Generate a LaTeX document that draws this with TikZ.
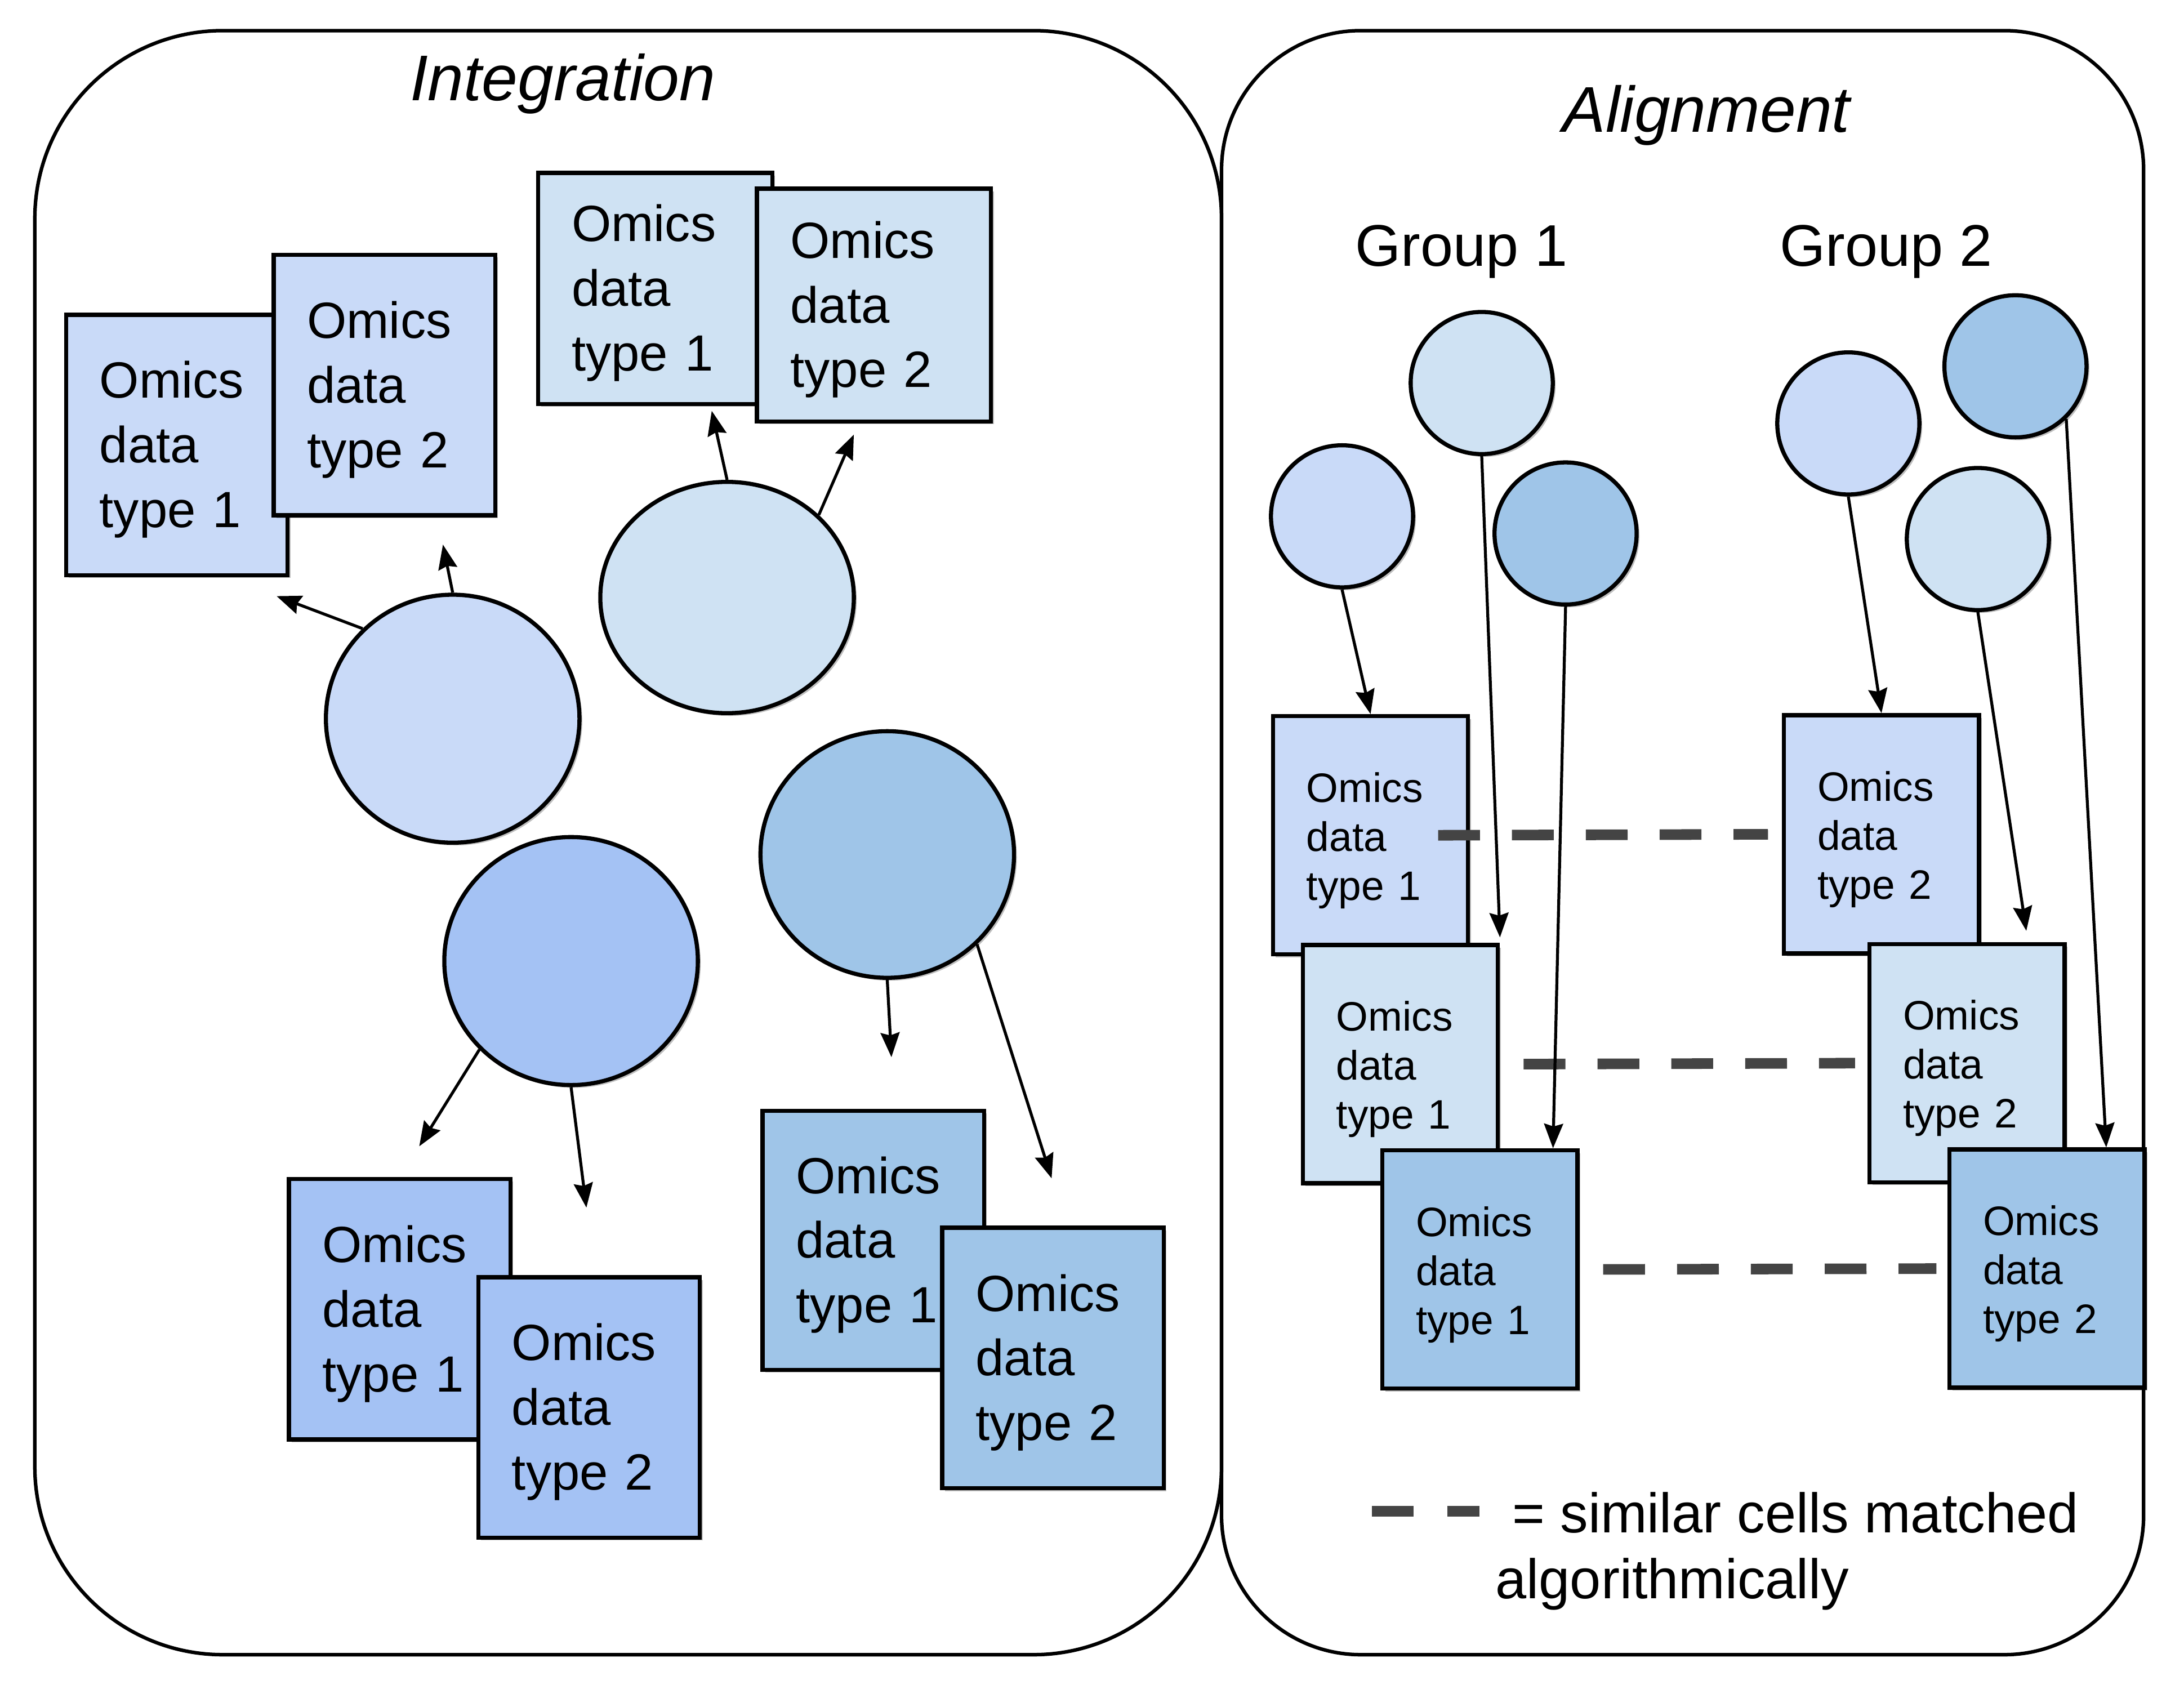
\documentclass[tikz,border=0pt]{standalone}
\usepackage{fontspec}
\setmainfont{Liberation Sans}
\usetikzlibrary{shapes.geometric,arrows.meta,shadows}
\definecolor{cA}{HTML}{C9DAF8}
\definecolor{cB}{HTML}{CFE2F3}
\definecolor{cC}{HTML}{A4C2F4}
\definecolor{cD}{HTML}{9FC5E8}
\definecolor{dashgray}{HTML}{444444}
\newcommand\bigfirst{\rule{0pt}{23.5pt}}
\newcommand\smallfirst{\rule{0pt}{20.5pt}}
\begin{document}
\begin{tikzpicture}[x=0.025cm,y=-0.025cm,
  panel/.style={draw=black,line width=1.8pt},
  shad/.style={drop shadow={shadow xshift=0.05cm,shadow yshift=-0.05cm,opacity=0.25,fill=black}},
  cell/.style={ellipse,draw=black,line width=2.1pt,inner sep=0pt,shad},
  bigcell/.style={cell,minimum width=4.55cm},
  smallcell/.style={cell,minimum width=2.55cm,minimum height=2.55cm},
  bigbox/.style={rectangle,draw=black,line width=2.1pt,anchor=north west,align=left,
     inner xsep=0.6cm,inner ysep=0pt,text width=2.775cm,minimum height=4.675cm,
     font=\fontsize{26}{33}\selectfont,shad},
  widebox/.style={bigbox,text width=3.0cm,minimum height=4.15cm},
  smallbox/.style={rectangle,draw=black,line width=2.1pt,anchor=north west,align=left,
     inner xsep=0.6cm,inner ysep=0pt,text width=2.3cm,minimum height=4.275cm,
     font=\fontsize{21}{25}\selectfont,shad},
  arr/.style={-{Stealth[length=0.44cm,width=0.34cm,inset=0.05cm]},line width=1.5pt},
  match/.style={draw=dashgray,line width=0.19cm,dash pattern=on 0.75cm off 0.575cm},
  ttl/.style={font=\itshape\fontsize{33}{40}\selectfont,inner sep=0pt},
  grp/.style={font=\fontsize{30}{36}\selectfont,inner sep=0pt}
]
\useasboundingbox (0,0) rectangle (1568,1209.4);
\fill[white] (0,0) rectangle (1568,1209.4);

% panels
\draw[panel,rounded corners=3.375cm] (25,22) rectangle (877,1188);
\draw[panel,rounded corners=2.5cm] (877,22) rectangle (1539,1188);

% titles
\node[ttl] (tInt) at (404,60) {Integration};
\node[ttl] (tAli) at (1225,83) {Alignment};
\node[grp] (g1) at (1049.3,180.5) {Group 1};
\node[grp] (g2) at (1354,180.5) {Group 2};

% ---------------- Integration panel ----------------
\node[bigbox,fill=cA] (A1) at (46,224.5) {\bigfirst Omics\\data\\type 1};
\node[bigbox,fill=cA] (A2) at (195,181.5) {\bigfirst Omics\\data\\type 2};
\node[widebox,fill=cB] (B1) at (385,122.6) {\bigfirst Omics\\data\\type 1};
\node[widebox,fill=cB,minimum height=4.175cm] (B2) at (542,134) {\bigfirst Omics\\data\\type 2};
\node[bigbox,fill=cC] (C1) at (206,845) {\bigfirst Omics\\data\\type 1};
\node[bigbox,fill=cC] (C2) at (342,915.5) {\bigfirst Omics\\data\\type 2};
\node[bigbox,fill=cD,minimum height=4.65cm] (D1) at (546,796) {\bigfirst Omics\\data\\type 1};
\node[bigbox,fill=cD] (D2) at (675,880) {\bigfirst Omics\\data\\type 2};

\node[bigcell,fill=cA,minimum height=4.45cm] (cirA) at (325,516) {};
\node[bigcell,fill=cB,minimum height=4.15cm] (cirB) at (522,429) {};
\node[bigcell,fill=cC,minimum height=4.45cm] (cirC) at (410,690) {};
\node[bigcell,fill=cD,minimum height=4.425cm] (cirD) at (637,613.5) {};

\coordinate (tA1) at (198.6,428);
\coordinate (tA2) at (318,391);
\coordinate (tB1) at (511,295);
\coordinate (tB2) at (613,312);
\coordinate (tC1) at (301,823);
\coordinate (tC2) at (421,867);
\coordinate (tD1) at (640,759);
\coordinate (tD2) at (755,846);

\draw[arr] (cirA.135) -- (tA1);
\draw[arr] (cirA.90) -- (tA2);
\draw[arr] (cirB.90) -- (tB1);
\draw[arr] (cirB.42) -- (tB2);
\draw[arr] (cirC.224) -- (tC1);
\draw[arr] (cirC.270) -- (tC2);
\draw[arr] (cirD.270) -- (tD1);
\draw[arr] (cirD.315) -- (tD2);

% ---------------- Alignment panel ----------------
\node[smallbox,fill=cA] (R1) at (912.5,512.7) {\smallfirst Omics\\data\\type 1};
\node[smallbox,fill=cB] (R2) at (933.9,677) {\smallfirst Omics\\data\\type 1};
\node[smallbox,fill=cD] (R3) at (991,824.4) {\smallfirst Omics\\data\\type 1};
\node[smallbox,fill=cA] (S1) at (1279.3,512) {\smallfirst Omics\\data\\type 2};
\node[smallbox,fill=cB] (S2) at (1340.8,676.3) {\smallfirst Omics\\data\\type 2};
\node[smallbox,fill=cD] (S3) at (1398.2,823.8) {\smallfirst Omics\\data\\type 2};

\node[smallcell,fill=cA] (G1a) at (963.5,370.7) {};
\node[smallcell,fill=cB] (G1b) at (1063.8,275) {};
\node[smallcell,fill=cD] (G1c) at (1124,383) {};
\node[smallcell,fill=cA] (G2a) at (1327,304) {};
\node[smallcell,fill=cB] (G2b) at (1420,387) {};
\node[smallcell,fill=cD] (G2c) at (1447,263) {};

\draw[match] ([xshift=-0.575cm]R1.east) -- ([xshift=-0.25cm]S1.west);
\draw[match] ([xshift=0.425cm]R2.east) -- ([xshift=-0.225cm]S2.west);
\draw[match] ([xshift=0.425cm]R3.east) -- ([xshift=-0.2cm]S3.west);

\draw[arr] (G1a.south) -- (R1.north);
\draw[arr] (G1b.south) -- ([yshift=0.1cm]R2.north east);
\draw[arr] (G1c.south) -- ([xshift=-0.475cm]R3.north east);
\draw[arr] (G2a.south) -- (S1.north);
\draw[arr] (G2b.south) -- ([xshift=-0.725cm,yshift=0.2cm]S2.north east);
\draw[arr] (G2c.314) -- ([xshift=-0.725cm]S3.north east);

% legend
\coordinate (L0) at (985,1085);
\coordinate (L1) at (1062,1085);
\draw[match,dash pattern=on 0.75cm off 0.6cm] (L0) -- (L1);
\node[anchor=west,inner sep=0pt,align=left,font=\fontsize{28.5}{33.5}\selectfont] (legend) at (1073.5,1113.7)
  {\hspace*{0.3cm}= similar cells matched\\algorithmically};
\end{tikzpicture}
\end{document}
